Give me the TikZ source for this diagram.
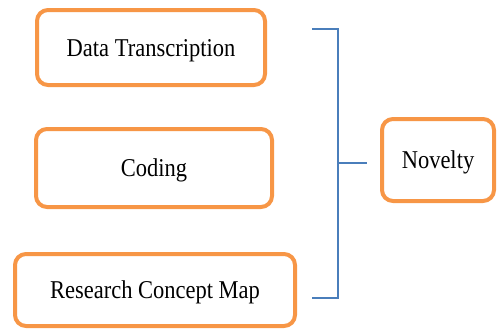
\documentclass[tikz,border=0pt]{standalone}
\usepackage{fontspec}
\setmainfont{Liberation Serif}
\definecolor{boxorange}{HTML}{F79646}
\definecolor{linkblue}{HTML}{4A7EBB}
% labels are set slightly taller than wide
\newcommand\tallLabel[1]{\scalebox{1}[1.14]{#1}}
\begin{document}
\begin{tikzpicture}[x=1pt,y=-1pt,
  itembox/.style={draw=boxorange, line width=4pt, rounded corners=11pt, fill=white,
    inner sep=0pt, text height=17pt, text depth=0pt,
    font=\fontsize{22.5}{26}\selectfont},
  bracket/.style={draw=linkblue, line width=1.8pt}]
  \useasboundingbox (0,0) rectangle (497,332);
  % stages on the left
  \node[itembox, minimum width=228pt, minimum height=75pt] (trans) at (151,47.5) {\tallLabel{Data Transcription}};
  \node[itembox, minimum width=236pt, minimum height=78pt] (code) at (154,168) {\tallLabel{Coding}};
  \node[itembox, minimum width=280pt, minimum height=72pt] (map) at (155,290) {\tallLabel{Research Concept Map}};
  % outcome on the right
  \node[itembox, minimum width=112pt, minimum height=82pt] (nov) at (438,160) {\tallLabel{Novelty}};
  % bracket joining the stages
  \coordinate (btop) at (312,29);
  \coordinate (bbot) at (312,298);
  \coordinate (bmid) at (338,163);
  \coordinate (bend) at (367,163);
  \draw[bracket] (btop) -- (338,29) -- (338,298) -- (bbot);
  \draw[bracket] (bmid) -- (bend);
\end{tikzpicture}
\end{document}
